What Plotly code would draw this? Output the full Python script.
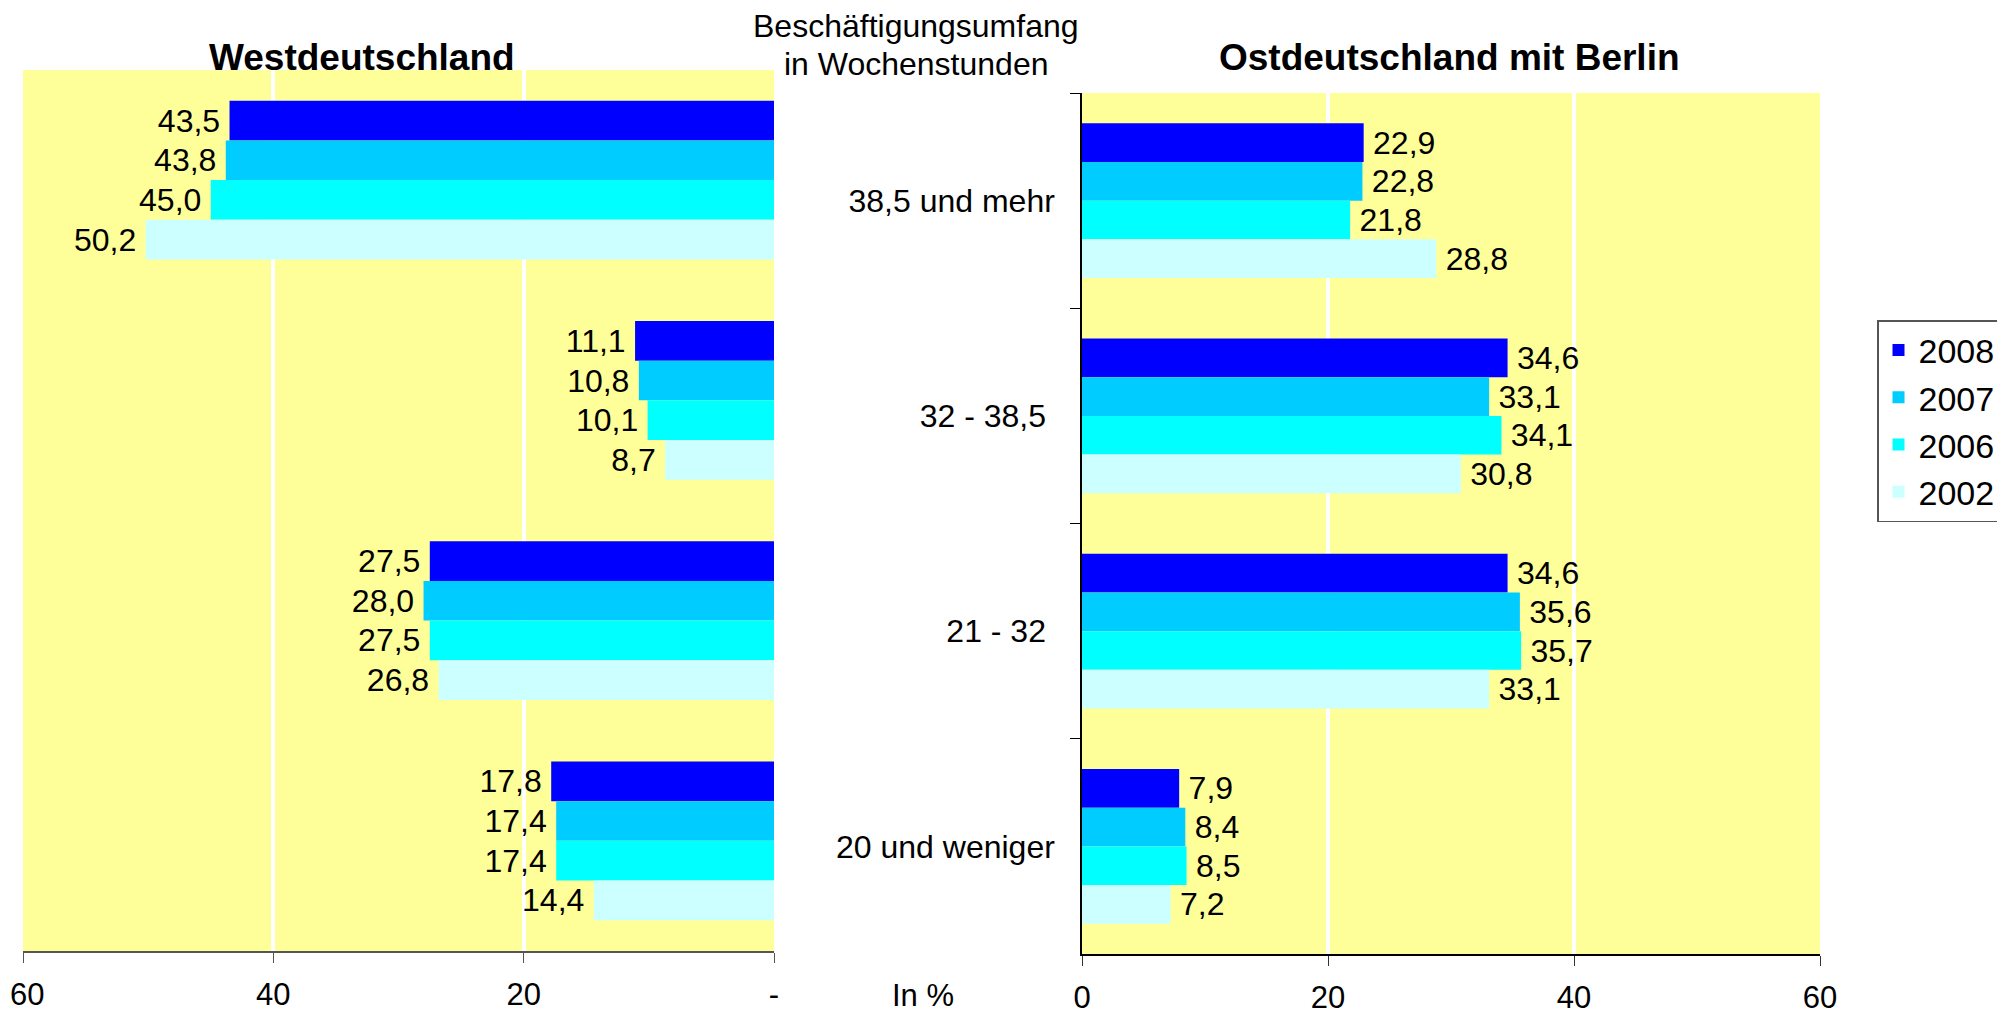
import plotly.graph_objects as go

categories = ['38,5 und mehr', '32 - 38,5\u00a0', '21 - 32\u00a0', '20 und weniger']
years = ['2008', '2007', '2006', '2002']
colors = ['#0000FF', '#00CCFF', '#00FFFF', '#CCFFFF']

west = {
    '2008': [43.5, 11.1, 27.5, 17.8],
    '2007': [43.8, 10.8, 28.0, 17.4],
    '2006': [45.0, 10.1, 27.5, 17.4],
    '2002': [50.2, 8.7, 26.8, 14.4],
}
east = {
    '2008': [22.9, 34.6, 34.6, 7.9],
    '2007': [22.8, 33.1, 35.6, 8.4],
    '2006': [21.8, 34.1, 35.7, 8.5],
    '2002': [28.8, 30.8, 33.1, 7.2],
}

tick_vals = [0, 20, 40, 60]
# leading nbsp keeps the outermost "60" inside the page edge
west_tick_text = ['-', '20', '40', '\u00a060']
east_tick_text = ['0', '20', '40', '60']

FONT = 'Liberation Sans, Arial, Helvetica, sans-serif'

W, H = 2005, 1011
PAGE_OFFSET = 8  # default body margin of the html page


def px(x):
    return (x - PAGE_OFFSET) / W


def py(y):
    return 1 - (y - PAGE_OFFSET) / H


def fmt(v):
    return f'{v:.1f}'.replace('.', ',')


fig = go.Figure()

# left panel: bars grow to the left, labels sit left of the bar end
for year, color in zip(years, colors):
    fig.add_trace(go.Bar(
        x=west[year], y=categories, orientation='h', name=year,
        marker=dict(color=color, line=dict(width=0)),
        text=[fmt(v) + '\u2009' for v in west[year]], textposition='outside',
        textfont=dict(family=FONT, size=32, color='black'),
        constraintext='none', cliponaxis=False,
        xaxis='x', yaxis='y', showlegend=True,
    ))

for year, color in zip(years, colors):
    fig.add_trace(go.Bar(
        x=east[year], y=categories, orientation='h', name=year,
        marker=dict(color=color, line=dict(width=0)),
        text=['\u2009' + fmt(v) for v in east[year]], textposition='outside',
        textfont=dict(family=FONT, size=32, color='black'),
        constraintext='none', cliponaxis=False,
        xaxis='x2', yaxis='y2', showlegend=False,
    ))

axis_font = dict(family=FONT, size=31, color='black')

fig.update_layout(
    width=W, height=H,
    margin=dict(l=0, r=0, t=0, b=0, autoexpand=False),
    paper_bgcolor='white',
    plot_bgcolor='#FFFF99',
    barmode='group', bargap=0.28, bargroupgap=0,
    separators=',.',
    xaxis=dict(
        domain=[px(23), px(774)], anchor='y', automargin=False,
        range=[60, 0], tickvals=tick_vals, ticktext=west_tick_text,
        showgrid=True, gridcolor='white', gridwidth=4,
        zeroline=False, showline=True, linecolor='#555555', linewidth=1.5,
        ticks='outside', ticklen=10, tickcolor='#555555',
        tickfont=axis_font, ticklabelstandoff=5, ticklabeloverflow='allow',
    ),
    yaxis=dict(
        domain=[py(951), py(70)], anchor='x', automargin=False,
        autorange='reversed', showticklabels=False, showline=False,
        showgrid=False, ticks='',
    ),
    xaxis2=dict(
        domain=[px(1082), px(1820)], anchor='y2', automargin=False,
        range=[0, 60], tickvals=tick_vals, ticktext=east_tick_text,
        showgrid=True, gridcolor='white', gridwidth=4,
        zeroline=False, showline=True, linecolor='black', linewidth=1.5,
        ticks='outside', ticklen=10, tickcolor='#333333',
        tickfont=axis_font, ticklabelstandoff=5, ticklabeloverflow='allow',
    ),
    yaxis2=dict(
        domain=[py(954), py(93)], anchor='x2', automargin=False,
        autorange='reversed', showline=True, linecolor='black', linewidth=1.5,
        showgrid=False, ticks='outside', ticklen=10, tickcolor='black',
        tickson='boundaries', ticklabelstandoff=19,
        tickfont=dict(family=FONT, size=32, color='black'),
    ),
    legend=dict(
        x=px(1877), y=py(320), xanchor='left', yanchor='top',
        bgcolor='white', bordercolor='#555555', borderwidth=1.5,
        font=dict(family=FONT, size=34, color='black'),
        tracegroupgap=0, itemwidth=30,
    ),
)

annotations = [
    ('<b>Westdeutschland</b>', 362, 58, 37),
    ('<b>Ostdeutschland mit Berlin</b>', 1449, 58, 37),
    ('Beschäftigungsumfang', 916, 26, 32),
    ('in Wochenstunden', 916, 64, 32),
    ('In %', 923, 995, 31),
]
for text, ax, ay, size in annotations:
    fig.add_annotation(
        text=text, x=px(ax), y=py(ay), xref='paper', yref='paper',
        xanchor='center', yanchor='middle', showarrow=False,
        font=dict(family=FONT, size=size, color='black'),
    )

fig.write_html('out.html')
